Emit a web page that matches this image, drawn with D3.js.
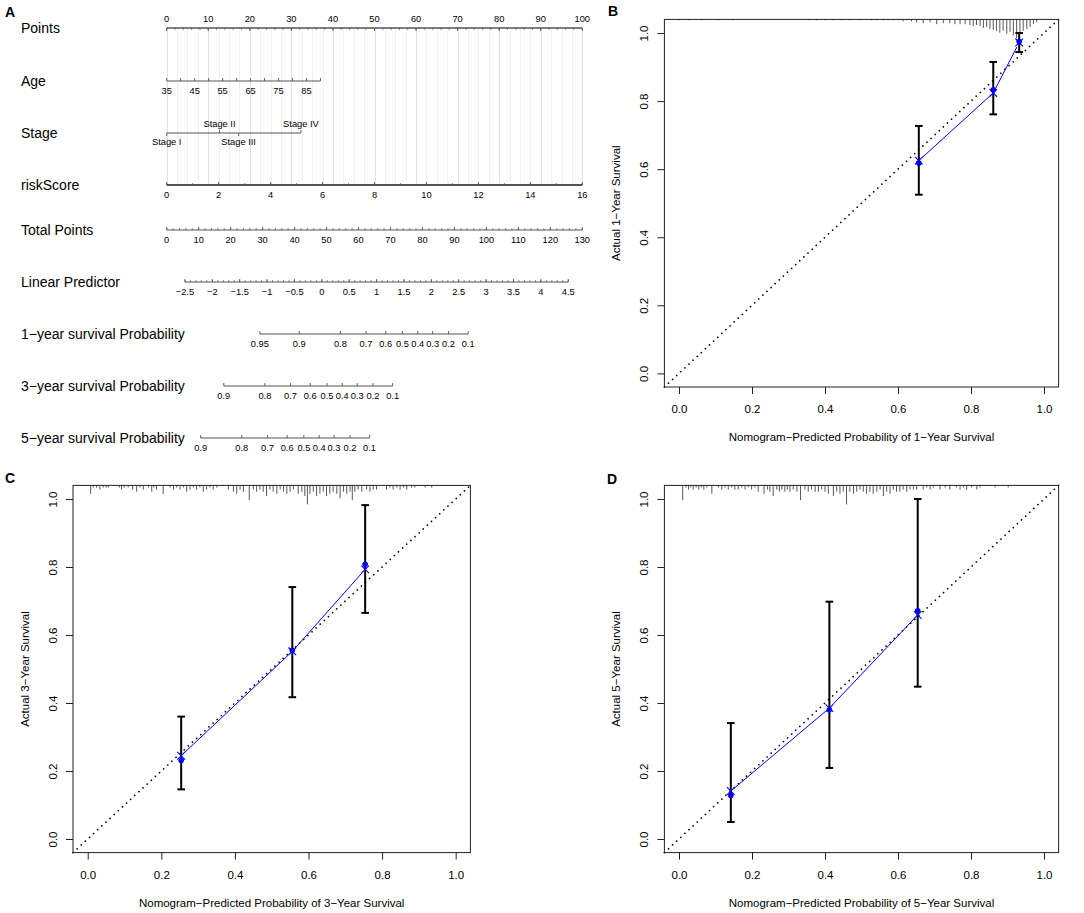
<!DOCTYPE html>
<html>
<head>
<meta charset="utf-8">
<script src="https://cdn.jsdelivr.net/npm/d3@7"></script>
<style>
  body { margin: 0; background: #fff; }
  svg text { font-family: "Liberation Sans", Arial, sans-serif; fill: #000; }
</style>
</head>
<body>
<svg id="fig" width="1084" height="913"></svg>
<script>
// ---------- Panel A: nomogram data ----------
const ROW_LABELS = ['Points', 'Age', 'Stage', 'riskScore', 'Total Points', 'Linear Predictor',
  '1\u2212year survival Probability', '3\u2212year survival Probability', '5\u2212year survival Probability'];

const POINT_TICKS = [0, 10, 20, 30, 40, 50, 60, 70, 80, 90, 100];
const AGE_TICKS   = [35, 40, 45, 50, 55, 60, 65, 70, 75, 80, 85, 90];
const AGE_LABELS  = [35, 45, 55, 65, 75, 85];
const AGE_RANGE   = [35, 90];
const AGE_POINTS  = [0, 37.0];
const STAGE_NAMES  = ['Stage I', 'Stage II', 'Stage III', 'Stage IV'];
const STAGE_POINTS = [0, 12.7, 17.3, 32.3];
const RISK_TICKS  = [0, 2, 4, 6, 8, 10, 12, 14, 16];
const RISK_RANGE  = [0, 16];
const RISK_POINTS = [0, 100];
const TOTAL_TICKS = [0, 10, 20, 30, 40, 50, 60, 70, 80, 90, 100, 110, 120, 130];
const LP_TICKS    = [-2.5, -2, -1.5, -1, -0.5, 0, 0.5, 1, 1.5, 2, 2.5, 3, 3.5, 4, 4.5];
const LP_RANGE    = [-2.5, 4.5];
const LP_TOTAL    = [5.7, 125.6];          // total points matching the LP range
const SURV1_TICKS = [0.95, 0.9, 0.8, 0.7, 0.6, 0.5, 0.4, 0.3, 0.2, 0.1];
const SURV3_TICKS = [0.9, 0.8, 0.7, 0.6, 0.5, 0.4, 0.3, 0.2, 0.1];
const SURV5_TICKS = [0.9, 0.8, 0.7, 0.6, 0.5, 0.4, 0.3, 0.2, 0.1];
const BASE_SURV   = [0.853, 0.532, 0.382]; // baseline survival at 1, 3, 5 years

// ---------- Panels B-D: calibration data ----------
const cal1Pred = [0.657, 0.861, 0.932];
const cal1Obs  = [0.618, 0.833, 0.975];
const cal1Lo   = [0.525, 0.761, 0.944];
const cal1Hi   = [0.727, 0.915, 1.000];
const cal1Corr = [0.625, 0.824, 0.972];

const cal3Pred = [0.254, 0.556, 0.754];
const cal3Obs  = [0.231, 0.555, 0.808];
const cal3Lo   = [0.146, 0.417, 0.665];
const cal3Hi   = [0.360, 0.741, 0.982];
const cal3Corr = [0.245, 0.552, 0.793];

const cal5Pred = [0.142, 0.412, 0.654];
const cal5Obs  = [0.128, 0.380, 0.671];
const cal5Lo   = [0.050, 0.209, 0.448];
const cal5Hi   = [0.341, 0.698, 1.000];
const cal5Corr = [0.141, 0.385, 0.659];

// distribution of predicted probabilities (rug spikes): value, relative frequency
const rug1Val = [0.0, 0.028, 0.062, 0.108, 0.147, 0.354, 0.377, 0.400, 0.423, 0.446, 0.468, 0.496, 0.528, 0.542,
  0.560, 0.573, 0.587, 0.601, 0.614, 0.624, 0.637, 0.651, 0.669, 0.688, 0.706, 0.724, 0.742, 0.756, 0.770, 0.784,
  0.797, 0.806, 0.815, 0.825, 0.834, 0.843, 0.852, 0.861, 0.870, 0.879, 0.888, 0.898, 0.907, 0.916, 0.925, 0.934,
  0.943, 0.953, 0.962, 0.971, 0.980];
const rug1Cnt = [1, 1, 1, 1, 1, 1, 1, 1, 1, 1, 1, 1, 1, 1,
  1, 1, 1, 1, 2, 1, 2, 3, 4, 3, 5, 4, 4, 5, 5, 5,
  6, 7, 6, 7, 9, 8, 10, 11, 12, 14, 12, 15, 13, 17, 20, 14,
  12, 10, 8, 5, 3];

const rug3Val = [0.008, 0.015, 0.024, 0.033, 0.042, 0.050, 0.056, 0.086, 0.092, 0.099, 0.110, 0.122, 0.133, 0.142,
  0.151, 0.165, 0.174, 0.180, 0.187, 0.205, 0.224, 0.233, 0.242, 0.251, 0.260, 0.269, 0.278, 0.287, 0.296, 0.305,
  0.314, 0.323, 0.332, 0.341, 0.351, 0.382, 0.396, 0.405, 0.414, 0.423, 0.439, 0.450, 0.459, 0.468, 0.477, 0.486,
  0.495, 0.504, 0.514, 0.523, 0.532, 0.541, 0.550, 0.559, 0.572, 0.582, 0.590, 0.597, 0.604, 0.613, 0.622, 0.631,
  0.640, 0.649, 0.658, 0.667, 0.677, 0.686, 0.695, 0.704, 0.713, 0.719, 0.726, 0.735, 0.745, 0.758, 0.767, 0.776,
  0.785, 0.812, 0.821, 0.830, 0.840, 0.849, 0.858, 0.867, 0.880, 0.889, 0.917, 0.935];
const rug3Cnt = [4, 1, 1, 2, 1, 1, 1, 1, 2, 1, 1, 2, 3, 1,
  2, 1, 3, 1, 2, 4, 1, 2, 1, 2, 1, 3, 2, 1, 2, 1,
  3, 2, 1, 2, 1, 2, 3, 4, 2, 3, 7, 2, 3, 2, 3, 5,
  2, 3, 4, 2, 3, 4, 3, 2, 4, 3, 5, 9, 4, 3, 5, 4,
  3, 5, 4, 3, 4, 6, 3, 4, 3, 7, 3, 2, 3, 2, 3, 2,
  2, 2, 1, 2, 1, 2, 1, 2, 1, 1, 1, 1];

const rug5Val = [0.010, 0.019, 0.026, 0.032, 0.039, 0.047, 0.054, 0.061, 0.068, 0.076, 0.090, 0.108, 0.117, 0.126,
  0.135, 0.144, 0.153, 0.162, 0.172, 0.181, 0.190, 0.199, 0.208, 0.217, 0.233, 0.242, 0.249, 0.258, 0.268, 0.275,
  0.282, 0.290, 0.297, 0.304, 0.313, 0.323, 0.333, 0.345, 0.354, 0.363, 0.373, 0.382, 0.391, 0.400, 0.409, 0.423,
  0.432, 0.441, 0.450, 0.459, 0.468, 0.478, 0.487, 0.496, 0.505, 0.514, 0.523, 0.532, 0.542, 0.551, 0.560, 0.569,
  0.578, 0.587, 0.596, 0.605, 0.614, 0.624, 0.633, 0.642, 0.651, 0.669, 0.679, 0.688, 0.697, 0.715, 0.729, 0.742,
  0.760, 0.770, 0.779, 0.788, 0.802, 0.816, 0.825, 0.866, 0.902];
const rug5Cnt = [7, 1, 2, 1, 2, 1, 2, 1, 2, 1, 4, 1, 2, 1,
  2, 1, 2, 2, 1, 2, 1, 2, 1, 3, 4, 2, 3, 5, 2, 3,
  2, 3, 2, 3, 2, 3, 7, 2, 3, 2, 3, 3, 2, 3, 4, 5,
  3, 4, 3, 9, 3, 4, 3, 2, 3, 4, 3, 4, 3, 2, 5, 3,
  4, 2, 3, 3, 2, 3, 2, 2, 2, 2, 1, 2, 1, 2, 1, 2,
  1, 2, 1, 2, 1, 2, 1, 1, 1];

const CAL_TICKS = [0, 0.2, 0.4, 0.6, 0.8, 1.0];

// ---------- layout ----------
const NOMO = { left: 166.7, right: 582.3, labelX: 21, rowY: [28, 81, 133, 185, 230, 282, 334, 386, 438] };
const FRAMES = {
  B: { l: 664.4, r: 1058.6, t: 19.4, b: 387 },
  C: { l: 73.0, r: 470.4, t: 485.4, b: 852.6 },
  D: { l: 664.4, r: 1058.6, t: 485.4, b: 852.6 }
};
const AXIS_COL = '#555';
const MINUS = s => String(s).replace('-', '\u2212');

const svg = d3.select('#fig');

// panel letters
[['A', 5, 16.5], ['B', 608, 15.5], ['C', 5, 483], ['D', 607, 483.5]].forEach(([t, x, y]) => {
  svg.append('text').attr('x', x).attr('y', y).style('font-size', '14px').style('font-weight', 'bold').text(t);
});

// ---------- Panel A ----------
const A = svg.append('g');
const ptsX = d3.scaleLinear().domain([0, 100]).range([NOMO.left, NOMO.right]);
const totX = d3.scaleLinear().domain([0, 130]).range([NOMO.left, NOMO.right]);
const ageToPts  = d3.scaleLinear().domain(AGE_RANGE).range(AGE_POINTS);
const riskToPts = d3.scaleLinear().domain(RISK_RANGE).range(RISK_POINTS);
const lpToTot   = d3.scaleLinear().domain(LP_RANGE).range(LP_TOTAL);
const rowY = NOMO.rowY;

// light vertical reference lines
A.append('g').attr('shape-rendering', 'crispEdges')
  .selectAll('line').data(d3.range(0, 100.001, 2.5)).join('line')
  .attr('x1', d => Math.round(ptsX(d)) + 0.5).attr('x2', d => Math.round(ptsX(d)) + 0.5)
  .attr('y1', rowY[0]).attr('y2', rowY[3])
  .attr('stroke', d => d % 10 === 0 ? '#e2e2e2' : '#f0f0f0')
  .attr('stroke-width', d => d % 10 === 0 ? 1.5 : 1);

// row labels
A.append('g').selectAll('text').data(ROW_LABELS).join('text')
  .attr('x', NOMO.labelX).attr('y', (d, i) => rowY[i])
  .attr('dominant-baseline', 'central')
  .style('font-size', '14px')
  .text(d => d);

function nomoAxis({ y, x, lo, hi, majors, minors = [], labels = majors, fmt = String, above = false, width = 1 }) {
  const a = A.append('g');
  const dir = above ? -1 : 1;
  a.append('line').attr('x1', x(lo)).attr('x2', x(hi)).attr('y1', y).attr('y2', y)
    .attr('stroke', AXIS_COL).attr('stroke-width', width);
  a.append('g').selectAll('line').data(minors).join('line')
    .attr('x1', d => x(d)).attr('x2', d => x(d)).attr('y1', y).attr('y2', y - dir * 1.8)
    .attr('stroke', AXIS_COL).attr('stroke-width', 0.8);
  a.append('g').selectAll('line').data(majors).join('line')
    .attr('x1', d => x(d)).attr('x2', d => x(d)).attr('y1', y).attr('y2', y - dir * 3)
    .attr('stroke', AXIS_COL).attr('stroke-width', 0.9);
  a.append('g').selectAll('text').data(labels).join('text')
    .attr('x', d => x(d)).attr('y', y + dir * 9.5)
    .attr('text-anchor', 'middle').attr('dominant-baseline', 'central')
    .style('font-size', '9.3px')
    .text(fmt);
}

// Points
nomoAxis({ y: rowY[0], x: ptsX, lo: 0, hi: 100, majors: POINT_TICKS,
  minors: d3.range(0, 100.001, 2), above: true, width: 1.4 });
// Age
const ageX = v => ptsX(ageToPts(v));
nomoAxis({ y: rowY[1], x: ageX, lo: AGE_RANGE[0], hi: AGE_RANGE[1], majors: AGE_TICKS, labels: AGE_LABELS });
// Stage
{
  const y = rowY[2];
  const sg = A.append('g');
  sg.append('line').attr('x1', ptsX(d3.min(STAGE_POINTS))).attr('x2', ptsX(d3.max(STAGE_POINTS)))
    .attr('y1', y).attr('y2', y).attr('stroke', AXIS_COL);
  sg.selectAll('.tk').data(STAGE_POINTS).join('line')
    .attr('x1', d => ptsX(d)).attr('x2', d => ptsX(d))
    .attr('y1', y).attr('y2', (d, i) => i % 2 ? y - 3 : y + 3)
    .attr('stroke', AXIS_COL).attr('stroke-width', 0.9);
  sg.selectAll('text').data(STAGE_NAMES).join('text')
    .attr('x', (d, i) => ptsX(STAGE_POINTS[i]))
    .attr('y', (d, i) => i % 2 ? y - 8.6 : y + 9.4)
    .attr('text-anchor', 'middle').attr('dominant-baseline', 'central')
    .style('font-size', '9.3px')
    .text(d => d);
}
// riskScore
const riskX = v => ptsX(riskToPts(v));
nomoAxis({ y: rowY[3], x: riskX, lo: RISK_RANGE[0], hi: RISK_RANGE[1], majors: RISK_TICKS,
  minors: d3.range(0, 16.001, 1), width: 2.2 });
// Total Points
nomoAxis({ y: rowY[4], x: totX, lo: 0, hi: 130, majors: TOTAL_TICKS, minors: d3.range(0, 130.001, 2) });
// Linear predictor
const lpX = v => totX(lpToTot(v));
nomoAxis({ y: rowY[5], x: lpX, lo: LP_RANGE[0], hi: LP_RANGE[1], majors: LP_TICKS,
  minors: d3.range(-25, 46).map(d => d / 10), fmt: MINUS });
// survival probabilities: S(t) = S0(t)^exp(lp)
[SURV1_TICKS, SURV3_TICKS, SURV5_TICKS].forEach((ticks, k) => {
  const s0 = BASE_SURV[k];
  const sx = p => lpX(Math.log(Math.log(p) / Math.log(s0)));
  nomoAxis({ y: rowY[6 + k], x: sx, lo: d3.max(ticks), hi: d3.min(ticks), majors: ticks });
});

// ---------- Panels B-D ----------
function calPanel(fr, year, pred, obs, lo, hi, corr, rugVal, rugCnt) {
  const g = svg.append('g');
  const x = d3.scaleLinear().domain([-0.04, 1.04]).range([fr.l, fr.r]);
  const y = d3.scaleLinear().domain([-0.04, 1.04]).range([fr.b, fr.t]);
  const h = d3.scaleLinear().domain([0, d3.max(rugCnt)]).range([0, 19]);

  // rug of predicted values
  g.append('g').selectAll('line').data(rugVal).join('line')
    .attr('x1', d => x(d)).attr('x2', d => x(d))
    .attr('y1', fr.t).attr('y2', (d, i) => fr.t + h(rugCnt[i]))
    .attr('stroke', '#444').attr('stroke-width', 0.9);

  // ideal line
  g.append('line')
    .attr('x1', x(-0.04)).attr('y1', y(-0.04)).attr('x2', x(1.04)).attr('y2', y(1.04))
    .attr('stroke', '#000').attr('stroke-width', 1.7)
    .attr('stroke-linecap', 'round').attr('stroke-dasharray', '0.01 5.6');

  // frame
  g.append('rect').attr('x', fr.l).attr('y', fr.t).attr('width', fr.r - fr.l).attr('height', fr.b - fr.t)
    .attr('fill', 'none').attr('stroke', '#222').attr('stroke-width', 1);

  // axes
  const ax = g.append('g').attr('transform', `translate(0,${fr.b})`)
    .call(d3.axisBottom(x).tickValues(CAL_TICKS).tickFormat(d3.format('.1f')).tickSize(7).tickSizeOuter(0).tickPadding(11));
  const ay = g.append('g').attr('transform', `translate(${fr.l},0)`)
    .call(d3.axisLeft(y).tickValues(CAL_TICKS).tickFormat(d3.format('.1f')).tickSize(7).tickSizeOuter(0));
  [ax, ay].forEach(a => {
    a.select('.domain').remove();
    a.selectAll('line').attr('stroke', '#222');
    a.selectAll('text').style('font-size', '11.5px').style('font-family', '"Liberation Sans", Arial, sans-serif');
  });
  ay.selectAll('text')
    .attr('x', null).attr('dy', null)
    .attr('transform', 'translate(-20.5,0) rotate(-90)')
    .attr('text-anchor', 'middle').attr('dominant-baseline', 'central');

  g.append('text')
    .attr('x', x(0.5)).attr('y', fr.b + 50)
    .attr('text-anchor', 'middle').attr('dominant-baseline', 'central')
    .style('font-size', '11.5px')
    .text(`Nomogram\u2212Predicted Probability of ${year}\u2212Year Survival`);
  g.append('text')
    .attr('transform', `translate(${fr.l - 48},${y(0.5)}) rotate(-90)`)
    .attr('text-anchor', 'middle').attr('dominant-baseline', 'central')
    .style('font-size', '11.5px')
    .text(`Actual ${year}\u2212Year Survival`);

  // error bars
  const eb = g.append('g').attr('stroke', '#000').attr('stroke-width', 2);
  pred.forEach((p, i) => {
    eb.append('line').attr('x1', x(p)).attr('x2', x(p)).attr('y1', y(lo[i])).attr('y2', y(hi[i]));
    [lo[i], hi[i]].forEach(v => {
      eb.append('line').attr('x1', x(p) - 3.8).attr('x2', x(p) + 3.8).attr('y1', y(v)).attr('y2', y(v));
    });
  });

  // bias-corrected line with gaps around markers (type = "b")
  const pts = pred.map((p, i) => [x(p), y(corr[i])]);
  const gap = 5;
  for (let i = 0; i < pts.length - 1; i++) {
    const [x0, y0] = pts[i], [x1, y1] = pts[i + 1];
    const len = Math.hypot(x1 - x0, y1 - y0);
    const ux = (x1 - x0) / len, uy = (y1 - y0) / len;
    g.append('line')
      .attr('x1', x0 + ux * gap).attr('y1', y0 + uy * gap)
      .attr('x2', x1 - ux * gap).attr('y2', y1 - uy * gap)
      .attr('stroke', '#0000ff').attr('stroke-width', 1);
  }
  g.append('g').selectAll('path').data(pts).join('path')
    .attr('d', d3.symbol(d3.symbolX, 40))
    .attr('transform', d => `translate(${d[0]},${d[1]})`)
    .attr('fill', 'none').attr('stroke', '#0000ff').attr('stroke-width', 1.1);

  // observed
  g.append('g').selectAll('circle').data(pred).join('circle')
    .attr('cx', d => x(d)).attr('cy', (d, i) => y(obs[i])).attr('r', 2.8)
    .attr('fill', '#0000ff');
}

calPanel(FRAMES.B, 1, cal1Pred, cal1Obs, cal1Lo, cal1Hi, cal1Corr, rug1Val, rug1Cnt);
calPanel(FRAMES.C, 3, cal3Pred, cal3Obs, cal3Lo, cal3Hi, cal3Corr, rug3Val, rug3Cnt);
calPanel(FRAMES.D, 5, cal5Pred, cal5Obs, cal5Lo, cal5Hi, cal5Corr, rug5Val, rug5Cnt);
</script>
</body>
</html>
